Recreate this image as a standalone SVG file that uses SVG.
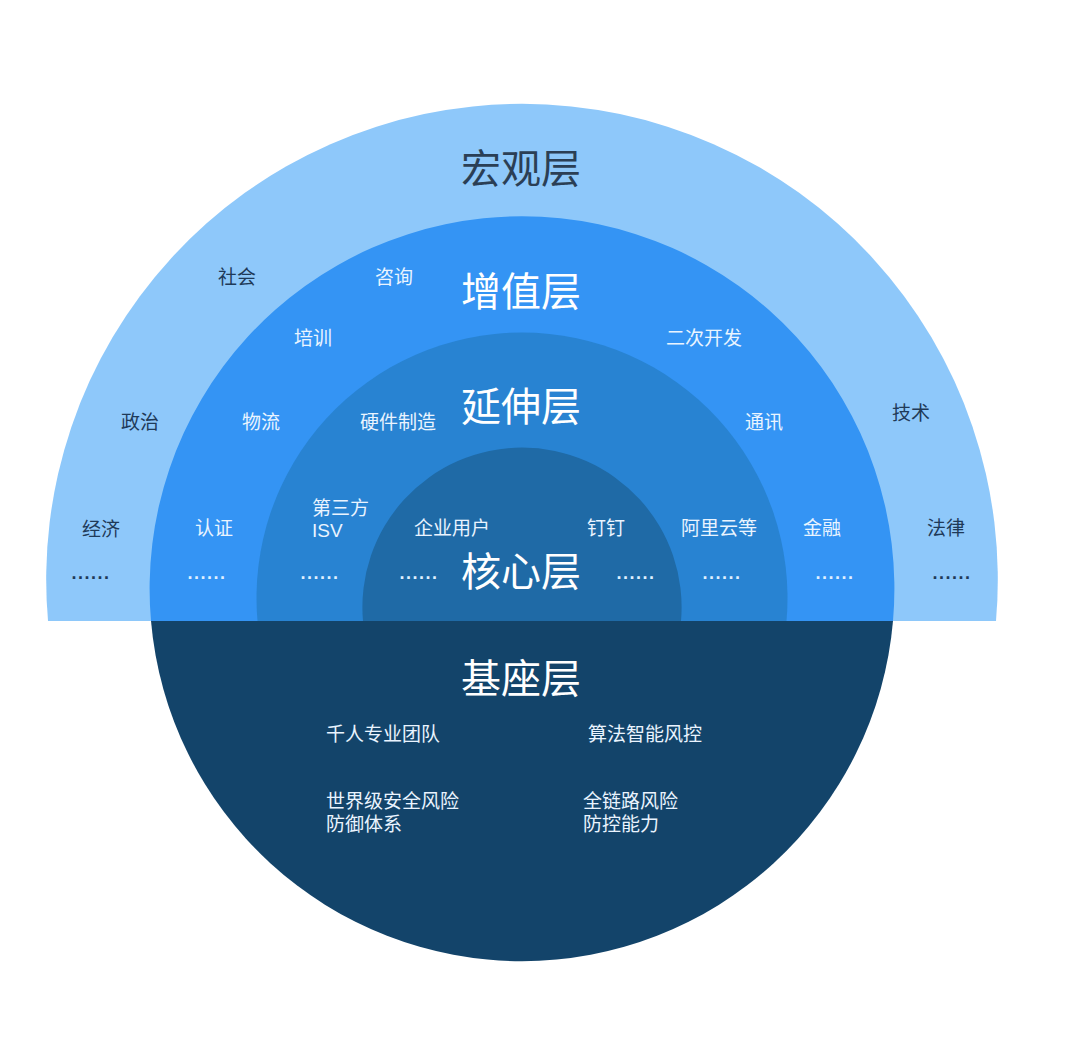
<svg xmlns="http://www.w3.org/2000/svg" width="1080" height="1048" viewBox="0 0 1080 1048">
<style>
text{font-family:"Liberation Sans","Noto Sans CJK SC",sans-serif;}
.title{font-size:40px;text-anchor:middle;fill:#ffffff;}
.lbl{font-size:19px;fill:#eaf4ff;}
.lbl-d{font-size:19px;fill:#1f3a58;}
.c{text-anchor:middle;}
.dots{font-size:18px;font-weight:bold;letter-spacing:1.5px;text-anchor:middle;fill:#dff0ff;}
.dots-d{font-size:18px;font-weight:bold;letter-spacing:1.5px;text-anchor:middle;fill:#1f3a58;}
</style>
<rect width="1080" height="1048" fill="#ffffff"/>
<g id="macro">
<path d="M48 621 A475.8 475.8 0 1 1 996 621 Z" fill="#8ec8fa"/>
<text class="title" x="521" y="183" style="fill:#2b3f55">宏观层</text>
<text class="lbl-d c" x="237" y="284">社会</text>
<text class="lbl-d c" x="140" y="429">政治</text>
<text class="lbl-d c" x="101" y="536">经济</text>
<text class="dots-d" x="91" y="579">......</text>
<text class="lbl-d c" x="911" y="420">技术</text>
<text class="lbl-d c" x="946" y="535">法律</text>
<text class="dots-d" x="952" y="579">......</text>
</g>
<g id="value-added">
<path d="M151 621 A372.4 372.4 0 1 1 893 621 Z" fill="#3494f4"/>
<text class="title" x="521" y="306">增值层</text>
<text class="lbl c" x="394" y="284">咨询</text>
<text class="lbl c" x="313" y="345">培训</text>
<text class="lbl c" x="704" y="345">二次开发</text>
<text class="lbl c" x="261" y="429">物流</text>
<text class="lbl c" x="764" y="429">通讯</text>
<text class="lbl c" x="214" y="535">认证</text>
<text class="lbl c" x="822" y="535">金融</text>
<text class="dots" x="207" y="579">......</text>
<text class="dots" x="835" y="579">......</text>
</g>
<g id="extension">
<path d="M257.5 621 A265.5 265.5 0 1 1 786.5 621 Z" fill="#2883d2"/>
<text class="title" x="521" y="421">延伸层</text>
<text class="lbl c" x="398" y="429">硬件制造</text>
<text class="lbl" x="312" y="515">第三方</text>
<text class="lbl" x="312" y="537">ISV</text>
<text class="lbl c" x="719" y="535">阿里云等</text>
<text class="dots" x="320" y="579">......</text>
<text class="dots" x="722" y="579">......</text>
</g>
<g id="core">
<path d="M363 621 A159.6 159.6 0 1 1 681 621 Z" fill="#1f6aa6"/>
<text class="title" x="521" y="586">核心层</text>
<text class="lbl c" x="452" y="535">企业用户</text>
<text class="lbl c" x="606" y="535">钉钉</text>
<text class="dots" x="419" y="579">......</text>
<text class="dots" x="636" y="579">......</text>
</g>
<g id="base">
<path d="M151 621 A372.4 372.4 0 0 0 893 621 Z" fill="#13446a"/>
<text class="title" x="521" y="693">基座层</text>
<text class="lbl" x="326" y="741">千人专业团队</text>
<text class="lbl" x="588" y="741">算法智能风控</text>
<text class="lbl" x="326" y="808">世界级安全风险</text>
<text class="lbl" x="326" y="831">防御体系</text>
<text class="lbl" x="583" y="808">全链路风险</text>
<text class="lbl" x="583" y="831">防控能力</text>
</g>
</svg>
